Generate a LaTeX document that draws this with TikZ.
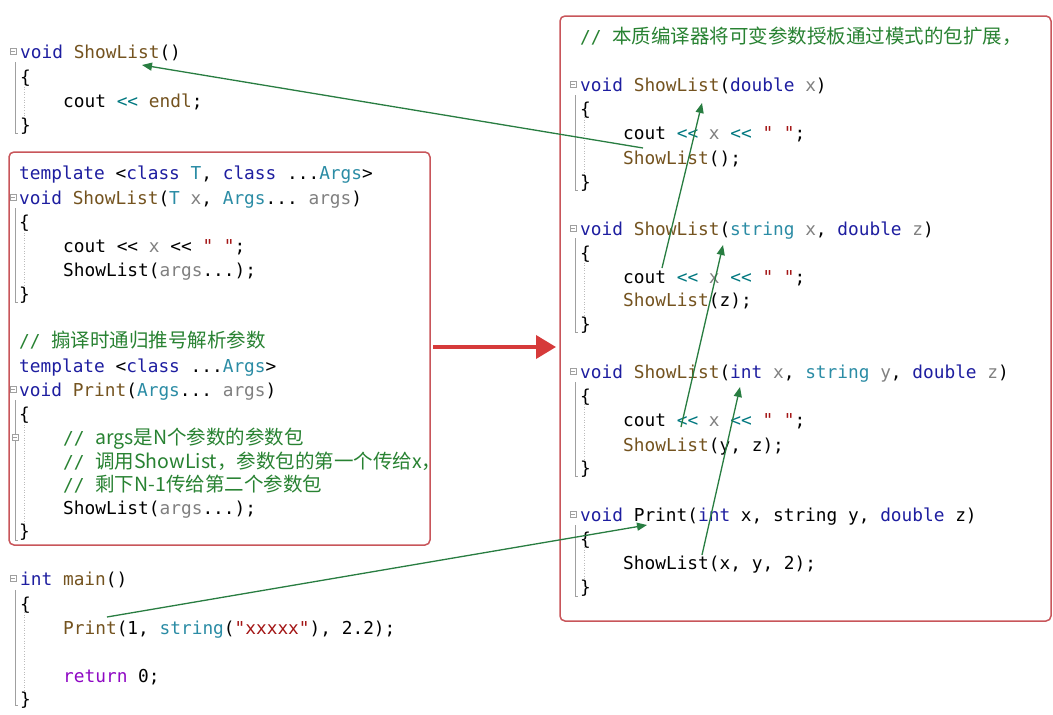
\documentclass[tikz,border=0pt]{standalone}
\usepackage{fontspec}
\usetikzlibrary{arrows.meta}
\setmonofont{DejaVu Sans Mono}
\newfontfamily\cjkf{Noto Sans CJK SC}
\definecolor{kwc}{RGB}{30,30,160}
\definecolor{fnc}{RGB}{116,83,31}
\definecolor{tyc}{RGB}{43,140,165}
\definecolor{pac}{RGB}{128,128,128}
\definecolor{opc}{RGB}{0,120,128}
\definecolor{stc}{RGB}{163,21,21}
\definecolor{rtc}{RGB}{143,8,196}
\definecolor{cmc}{RGB}{40,130,50}
\definecolor{arrc}{RGB}{40,125,65}
\definecolor{boxc}{RGB}{200,85,90}
\definecolor{bigarr}{RGB}{214,58,58}
\definecolor{gutc}{RGB}{160,160,160}
\newcommand\cKW[1]{\textcolor{kwc}{#1}}
\newcommand\cFN[1]{\textcolor{fnc}{#1}}
\newcommand\cTY[1]{\textcolor{tyc}{#1}}
\newcommand\cPA[1]{\textcolor{pac}{#1}}
\newcommand\cOP[1]{\textcolor{opc}{#1}}
\newcommand\cST[1]{\textcolor{stc}{#1}}
\newcommand\cRT[1]{\textcolor{rtc}{#1}}
\newcommand\cjktxt[1]{{\cjkf\fontsize{19.5}{24}\selectfont #1}}
\newcommand\gutter[4]{%
  \draw[gutc, line width=0.6pt, fill=white] (#1-3,#2-3) rectangle (#1+3,#2+3);
  \draw[gutc, line width=0.6pt] (#1-1.8,#2) -- (#1+1.8,#2);
  \draw[gutc, line width=0.9pt] (#1+2,#3) -- (#1+2,#4) -- (#1+5,#4);
  \draw[gutc!70, line width=0.6pt, dotted] (#1+11,#3+22) -- (#1+11,#4-12);
}
\begin{document}
\begin{tikzpicture}[x=1pt,y=-1pt,
  codetxt/.style={inner sep=0pt, anchor=base west, font=\ttfamily\fontsize{17.8}{24}\selectfont},
  cmt/.style={codetxt, text=cmc},
  redbox/.style={draw=boxc, line width=1.5pt, rounded corners=5pt},
  garrow/.style={draw=arrc, line width=1.3pt, -{Triangle[length=10pt,width=8pt]}},
  rarrow/.style={draw=bigarr, line width=3.8pt, -{Triangle[length=20pt,width=23pt]}}]
\useasboundingbox[fill=white] (0,0) rectangle (1053,715);

% boxes
\draw[redbox] (9,152) rectangle (430,545);
\draw[redbox] (560,16) rectangle (1051,621);

% gutters left
\gutter{13}{51}{62}{133}
\gutter{13}{197}{208}{302}
\gutter{13}{389}{400}{540}
\draw[gutc, line width=0.6pt, fill=white] (12,434) rectangle (18,440);
\draw[gutc, line width=0.6pt] (13.2,437) -- (16.8,437);
\gutter{13}{578}{590}{705}
% gutters right
\gutter{573}{84}{95}{190}
\gutter{573}{228}{238}{332}
\gutter{573}{371}{382}{476}
\gutter{573}{514}{525}{596}

% top-left code
\node[codetxt] (a1) at (20,58) {\cKW{void} \cFN{ShowList}()};
\node[codetxt] (a2) at (20,83) {\{};
\node[codetxt] (a3) at (63,107) {cout \cOP{<<} \cFN{endl};};
\node[codetxt] (a4) at (20,131) {\}};

% left box
\node[codetxt] (b1) at (19,179) {\cKW{template} <\cKW{class} \cTY{T}, \cKW{class} ...\cTY{Args}>};
\node[codetxt] (b2) at (19,204) {\cKW{void} \cFN{ShowList}(\cTY{T} \cPA{x}, \cTY{Args}... \cPA{args})};
\node[codetxt] (b3) at (19,228) {\{};
\node[codetxt] (b4) at (63,252) {cout << \cPA{x} << \cST{" "};};
\node[codetxt] (b5) at (63,276) {ShowList(\cPA{args}...);};
\node[codetxt] (b6) at (19,300) {\}};
\node[cmt] (b7) at (19,347) {// \cjktxt{搧译时通归推号解析参数}};
\node[codetxt] (b8) at (19,372) {\cKW{template} <\cKW{class} ...\cTY{Args}>};
\node[codetxt] (b9) at (19,396) {\cKW{void} \cFN{Print}(\cTY{Args}... \cPA{args})};
\node[codetxt] (b10) at (19,420) {\{};
\node[cmt] (b11) at (63,444) {// \cjktxt{args是N个参数的参数包}};
\node[cmt] (b12) at (63,468) {// \cjktxt{调用ShowList，参数包的第一个传给x，}};
\node[cmt] (b13) at (63,491) {// \cjktxt{剩下N-1传给第二个参数包}};
\node[codetxt] (b14) at (63,514) {ShowList(\cPA{args}...);};
\node[codetxt] (b15) at (19,537) {\}};

% bottom-left main
\node[codetxt] (c1) at (20,585) {\cKW{int} \cFN{main}()};
\node[codetxt] (c2) at (20,610) {\{};
\node[codetxt] (c3) at (63,634) {\cFN{Print}(1, \cTY{string}(\cST{"xxxxx"}), 2.2);};
\node[codetxt] (c4) at (63,682) {\cRT{return} 0;};
\node[codetxt] (c5) at (20,705) {\}};

% right box
\node[cmt] (d0) at (580,43) {// \cjktxt{本质编译器将可变参数授板通过模式的包扩展，}};
\node[codetxt] (d1) at (580,91) {\cKW{void} \cFN{ShowList}(\cKW{double} \cPA{x})};
\node[codetxt] (d2) at (580,115) {\{};
\node[codetxt] (d3) at (623,139) {cout \cOP{<<} \cPA{x} \cOP{<<} \cST{" "};};
\node[codetxt] (d4) at (623,164) {\cFN{ShowList}();};
\node[codetxt] (d5) at (580,188) {\}};
\node[codetxt] (e1) at (580,235) {\cKW{void} \cFN{ShowList}(\cTY{string} \cPA{x}, \cKW{double} \cPA{z})};
\node[codetxt] (e2) at (580,259) {\{};
\node[codetxt] (e3) at (623,283) {cout \cOP{<<} \cPA{x} \cOP{<<} \cST{" "};};
\node[codetxt] (e4) at (623,306) {\cFN{ShowList}(z);};
\node[codetxt] (e5) at (580,330) {\}};
\node[codetxt] (f1) at (580,378) {\cKW{void} \cFN{ShowList}(\cKW{int} \cPA{x}, \cTY{string} \cPA{y}, \cKW{double} \cPA{z})};
\node[codetxt] (f2) at (580,402) {\{};
\node[codetxt] (f3) at (623,426) {cout \cOP{<<} \cPA{x} \cOP{<<} \cST{" "};};
\node[codetxt] (f4) at (623,451) {\cFN{ShowList}(y, z);};
\node[codetxt] (f5) at (580,474) {\}};
\node[codetxt] (g1) at (580,521) {\cKW{void} Print(\cKW{int} x, string y, \cKW{double} z)};
\node[codetxt] (g2) at (580,545) {\{};
\node[codetxt] (g3) at (623,569) {ShowList(x, y, 2);};
\node[codetxt] (g4) at (580,593) {\}};

% arrow end points
\coordinate (s1) at (643,148); \coordinate (t1) at (142,65);
\coordinate (s2) at (662,268); \coordinate (t2) at (702,103);
\coordinate (s3) at (681,427); \coordinate (t3) at (723,245);
\coordinate (s4) at (702,555); \coordinate (t4) at (740,387);
\coordinate (s5) at (107,617); \coordinate (t5) at (647,525);
\coordinate (r1) at (433,347); \coordinate (r2) at (556,347);

\draw[garrow] (s1) -- (t1);
\draw[garrow] (s2) -- (t2);
\draw[garrow] (s3) -- (t3);
\draw[garrow] (s4) -- (t4);
\draw[garrow] (s5) -- (t5);
\draw[rarrow] (r1) -- (r2);
\end{tikzpicture}
\end{document}
